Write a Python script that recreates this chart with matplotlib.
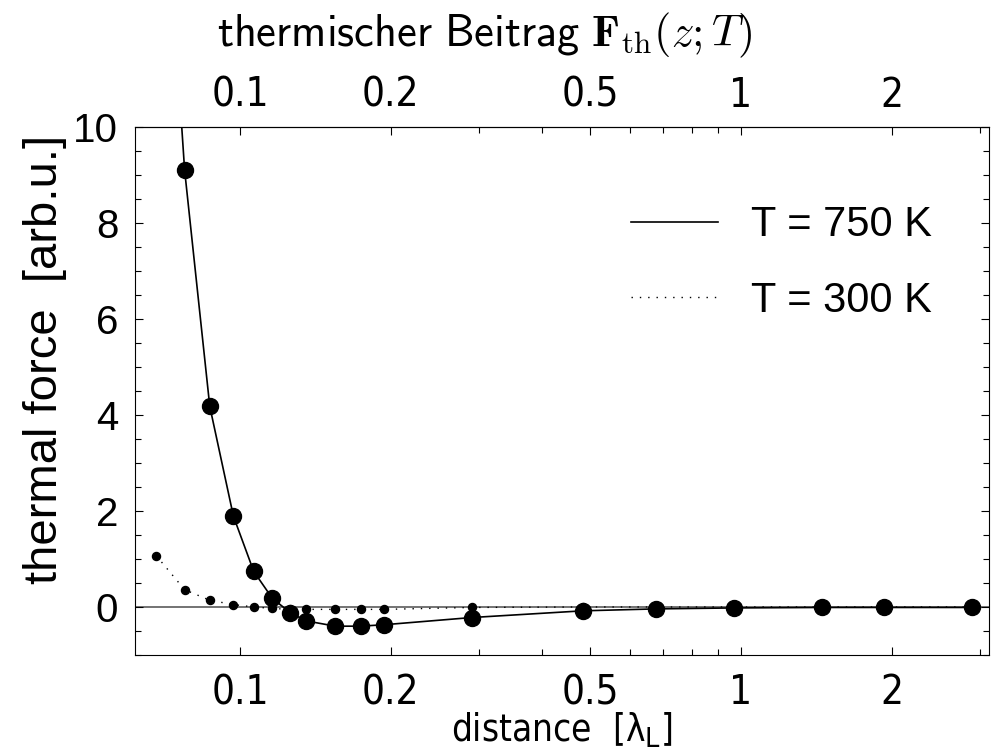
import matplotlib
matplotlib.use('Agg')
import matplotlib.pyplot as plt
from matplotlib.ticker import FixedLocator, FixedFormatter, MultipleLocator, NullFormatter
from matplotlib import font_manager
from matplotlib.font_manager import FontProperties

# distance in lambda_L
dist = [0.068, 0.0775, 0.087, 0.097, 0.1065, 0.116, 0.126, 0.1355, 0.155,
        0.174, 0.194, 0.29, 0.484, 0.677, 0.967, 1.45, 1.93, 2.9]
# thermal force, T = 750 K (first point lies above the frame)
force_750 = [18.0, 9.1, 4.18, 1.89, 0.74, 0.18, -0.12, -0.29, -0.40,
             -0.40, -0.37, -0.22, -0.08, -0.04, -0.02, -0.01, -0.01, -0.01]
# thermal force, T = 300 K
force_300 = [1.07, 0.36, 0.14, 0.05, 0.0, -0.03, -0.05, -0.05, -0.05,
             -0.05, -0.05, -0.01, 0.0, 0.0, 0.0, 0.0, 0.0, 0.0]

xtick_vals = [0.1, 0.2, 0.5, 1, 2]
xtick_labels = ['0.1', '0.2', '0.5', '1', '2']
xminor_vals = [0.3, 0.4, 0.6, 0.7, 0.8, 0.9, 3]


def narrow_font(size):
    # horizontal labels in the original are a narrow sans
    paths = [f.fname for f in font_manager.fontManager.ttflist]
    for key in ['LiberationSansNarrow-Regular', 'DejaVuSansCondensed.ttf']:
        for p in paths:
            if key in p:
                return FontProperties(fname=p, size=size)
    return FontProperties(family='Liberation Sans', size=size)


def setup_xticks(axis):
    axis.set_major_locator(FixedLocator(xtick_vals))
    axis.set_major_formatter(FixedFormatter(xtick_labels))
    axis.set_minor_locator(FixedLocator(xminor_vals))
    axis.set_minor_formatter(NullFormatter())


plt.rcParams['font.family'] = ['Liberation Sans', 'DejaVu Sans']

fs = 29
nfp = narrow_font(fs)

fig = plt.figure(figsize=(9.98, 7.5), dpi=100)
ax = fig.add_axes([0.1353, 0.1267, 0.991 - 0.1353, 0.8307 - 0.1267])

ax.axhline(0, color='0.3', lw=1.1, zorder=1)
ax.plot(dist, force_750, color='k', lw=1.2, label='T = 750 K', zorder=2)
ax.plot(dist, force_300, color='k', lw=1.0, dashes=(1, 5), label='T = 300 K', zorder=2)
ax.plot(dist[1:], force_750[1:], 'o', color='k', ms=11.5, zorder=3)
ax.plot(dist, force_300, 'o', color='k', ms=5.8, zorder=4)

ax.set_xscale('log')
ax.set_xlim(0.0617, 3.13)
ax.set_ylim(-1, 10)

setup_xticks(ax.xaxis)
ax.yaxis.set_major_locator(MultipleLocator(2))
ax.yaxis.set_minor_locator(MultipleLocator(0.5))

ax.tick_params(which='both', direction='in', top=False, right=True, width=0.8)
ax.tick_params(which='major', length=6)
ax.tick_params(which='minor', length=4)
ax.tick_params(axis='x', pad=13)
ax.tick_params(axis='y', pad=12, labelsize=fs)
for t in ax.xaxis.get_major_ticks():
    t.label1.set_fontproperties(nfp)

# top axis repeats the same distance ticks
top = ax.secondary_xaxis('top')
setup_xticks(top.xaxis)
top.tick_params(which='both', direction='in', width=0.8)
top.tick_params(which='major', length=6, pad=8)
top.tick_params(which='minor', length=4)
for t in top.xaxis.get_major_ticks():
    t.label2.set_fontproperties(nfp)

for s in list(ax.spines.values()) + list(top.spines.values()):
    s.set_linewidth(0.8)

ax.set_xlabel('distance  [λ$_\\mathrm{L}$]', fontproperties=narrow_font(26.5))
ax.xaxis.set_label_coords(0.5, -0.1648)
ax.xaxis.label.set_va('baseline')
ax.set_ylabel('thermal force  [arb.u.]', fontsize=34)
ax.yaxis.set_label_coords(-0.105, 0.56)
ax.yaxis.label.set_va('center')

fig.text(485 / 998, 1 - 35 / 750,
         r'$\mathsf{thermischer\ Beitrag}\ \mathbf{F}_{\mathrm{th}}(z;T)$',
         fontsize=32, ha='center', va='center', math_fontfamily='cm')

ax.legend(loc='upper right', bbox_to_anchor=(0.953, 0.883), frameon=False, fontsize=30,
          handlelength=2.09, handletextpad=0.79, labelspacing=0.85, borderaxespad=0)

fig.savefig('out.png', dpi=100)
